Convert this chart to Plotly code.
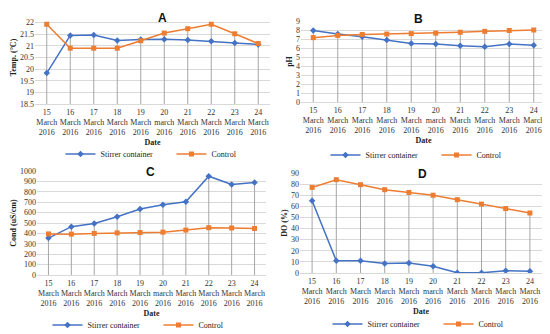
import plotly.graph_objects as go

dates = ["15<br>March<br>2016", "16<br>March<br>2016", "17<br>March<br>2016", "18<br>March<br>2016",
         "19<br>March<br>2016", "20<br>march<br>2016", "21<br>March<br>2016", "22<br>March<br>2016",
         "23<br>March<br>2016", "24<br>March<br>2016"]

temp_stirrer = [19.83, 21.45, 21.47, 21.23, 21.27, 21.28, 21.25, 21.2, 21.12, 21.06]
temp_control = [21.93, 20.9, 20.9, 20.9, 21.22, 21.55, 21.74, 21.93, 21.52, 21.1]

ph_stirrer = [7.95, 7.55, 7.25, 6.9, 6.5, 6.45, 6.25, 6.15, 6.45, 6.3]
ph_control = [7.15, 7.4, 7.5, 7.55, 7.6, 7.65, 7.75, 7.85, 7.95, 8.0]

cond_stirrer = [355, 465, 495, 560, 635, 675, 705, 950, 870, 890]
cond_control = [395, 393, 400, 405, 408, 412, 432, 455, 452, 447]

do_stirrer = [65, 11, 11, 8.5, 9, 6, 0.2, 0.2, 2, 1.5]
do_control = [77, 84, 79.5, 75, 72.5, 70, 66, 62, 58, 54]

BLUE = "#4472C4"
ORANGE = "#ED7D31"
SERIF = "Liberation Serif"

# the page body has an 8px margin, so the figure is drawn 8px in from the window corner
OFF = 8
W, H = 550 - OFF, 334 - OFF
ENTRY_W = 66
LEG_SHIFT = (ENTRY_W - 25) / 2  # keeps the visible legend centred despite the fixed entry width

def fy(px):
    return 1 - (px - OFF) / H

def fx(px):
    return (px - OFF) / W

panels = [
    dict(s=temp_stirrer, c=temp_control, yr=[18.5, 22.5], dt=0.5, yt="Temp. (°C)", L="A",
         xd=[fx(35), fx(270)], yd=[fy(104), fy(11)], lp=(162, 18), lc=(151, 154)),
    dict(s=ph_stirrer, c=ph_control, yr=[0, 9], dt=1, yt="pH", L="B",
         xd=[fx(301), fx(546)], yd=[fy(102), fy(21)], lp=(418, 19), lc=(416, 155)),
    dict(s=cond_stirrer, c=cond_control, yr=[0, 1000], dt=100, yt="Cond (uS/cm)", L="C",
         xd=[fx(37), fx(266)], yd=[fy(275), fy(171)], lp=(150, 172), lc=(138, 325)),
    dict(s=do_stirrer, c=do_control, yr=[0, 90], dt=10, yt="DO (%)", L="D",
         xd=[fx(300), fx(542)], yd=[fy(273), fy(173)], lp=(422, 174), lc=(418, 324)),
]

fig = go.Figure()
layout = dict(width=W, height=H, margin=dict(l=0, r=0, t=0, b=0, autoexpand=False),
              paper_bgcolor="white", plot_bgcolor="white",
              font=dict(family=SERIF, size=8, color="#222"), annotations=[])

for i, p in enumerate(panels):
    n = "" if i == 0 else str(i + 1)
    xa, ya = "x" + n, "y" + n
    leg = "legend" + n
    # drop lines from the higher series down to the axis minimum
    dx, dy = [], []
    for d, a, b in zip(dates, p["s"], p["c"]):
        dx += [d, d, None]
        dy += [p["yr"][0], max(a, b), None]
    fig.add_trace(go.Scatter(x=dx, y=dy, mode="lines", xaxis=xa, yaxis=ya,
                             line=dict(color="#A6A6A6", width=1), showlegend=False,
                             hoverinfo="skip"))
    fig.add_trace(go.Scatter(x=dates, y=p["s"], mode="lines+markers", name="Stirrer container",
                             xaxis=xa, yaxis=ya, legend=leg,
                             line=dict(color=BLUE, width=1.5),
                             marker=dict(symbol="diamond", size=5, color=BLUE)))
    fig.add_trace(go.Scatter(x=dates, y=p["c"], mode="lines+markers", name="Control",
                             xaxis=xa, yaxis=ya, legend=leg,
                             line=dict(color=ORANGE, width=1.5),
                             marker=dict(symbol="square", size=5, color=ORANGE)))
    layout["xaxis" + n] = dict(domain=p["xd"], anchor=ya, type="category", automargin=False,
                               range=[-0.5, 9.5], showgrid=False, showline=True,
                               linecolor="#D9D9D9", linewidth=1, ticks="",
                               tickfont=dict(family=SERIF, size=8, color="#333"),
                               title=dict(text="<b>Date</b>", standoff=2,
                                          font=dict(family=SERIF, size=8, color="#222")))
    layout["yaxis" + n] = dict(domain=p["yd"], anchor=xa, range=p["yr"], dtick=p["dt"],
                               automargin=False,
                               showgrid=True, gridcolor="#D9D9D9", gridwidth=1,
                               zeroline=False, showline=False, ticks="",
                               tickfont=dict(family=SERIF, size=8, color="#333"),
                               title=dict(text="<b>" + p["yt"] + "</b>", standoff=2,
                                          font=dict(family=SERIF, size=8, color="#222")))
    layout[leg] = dict(orientation="h", x=fx(p["lc"][0] + LEG_SHIFT), xanchor="center",
                       y=fy(p["lc"][1]), yanchor="middle",
                       font=dict(family=SERIF, size=8, color="#222"), bgcolor="rgba(0,0,0,0)",
                       itemwidth=30, entrywidth=ENTRY_W, entrywidthmode="pixels", tracegroupgap=0)
    layout["annotations"].append(dict(text="<b>" + p["L"] + "</b>", x=fx(p["lp"][0]), y=fy(p["lp"][1]),
                                      xref="paper", yref="paper", xanchor="center", yanchor="middle",
                                      showarrow=False,
                                      font=dict(family="Liberation Sans", size=12, color="#111")))

fig.update_layout(**layout)
fig.write_html("out.html")
